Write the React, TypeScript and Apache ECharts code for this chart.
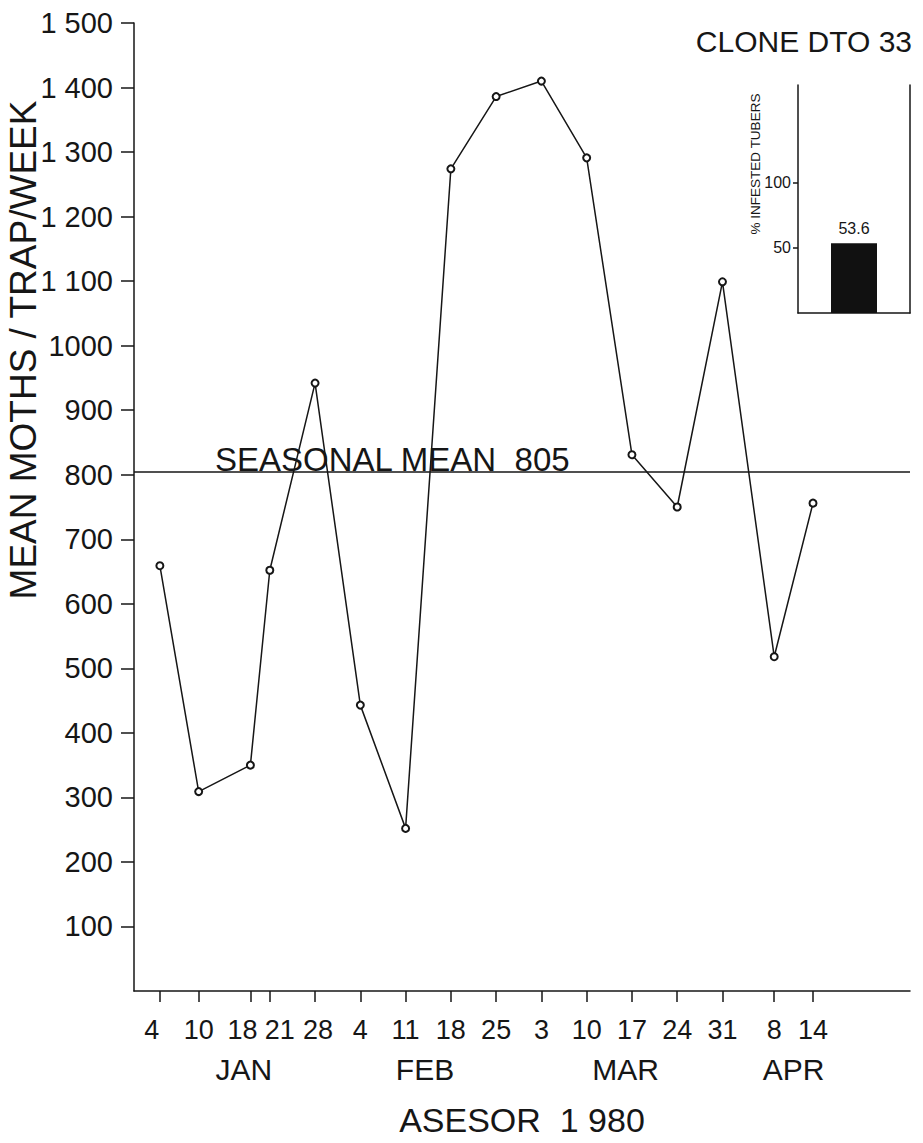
import React, { useEffect, useRef } from 'react';
import * as echarts from 'echarts';

// ---- data ----
const xDays = [4, 10, 18, 21, 28, 35, 42, 49, 56, 63, 70, 77, 84, 91, 99, 105]; // day of year 1980
const xTickLabels = ['4', '10', '18', '21', '28', '4', '11', '18', '25', '3', '10', '17', '24', '31', '8', '14'];
const moths = [659, 309, 350, 652, 942, 443, 252, 1274, 1386, 1410, 1291, 831, 750, 1099, 518, 756];
const monthNames = ['JAN', 'FEB', 'MAR', 'APR'];
const monthLabelDays = [17, 45, 76, 102];
const yTicks = [100, 200, 300, 400, 500, 600, 700, 800, 900, 1000, 1100, 1200, 1300, 1400, 1500];
const yTickLabels = ['100', '200', '300', '400', '500', '600', '700', '800', '900', '1000', '1 100', '1 200', '1 300', '1 400', '1 500'];
const seasonalMean = 805;
const insetCategories = ['DTO 33'];
const infested = [53.6];
const insetTicks = [50, 100];

// label nudges (style only): crowded January labels are offset as in the original
const xLabelNudge = ['l', 'n', 'l', 'r', 'q', 'n', 'n', 'n', 'n', 'n', 'n', 'n', 'n', 'n', 'n', 'n'];

const NUM_FONT = '"Liberation Sans", Arial, sans-serif';
const TXT_FONT = '"Liberation Sans", Arial, sans-serif';
const INK = '#161616';
const NUM_SIZE = 29;
const XNUM_SIZE = 27;

export default function App() {
  const ref = useRef<HTMLDivElement>(null);
  useEffect(() => {
    const chart = echarts.init(ref.current!, null, { renderer: 'svg' });
    const numStyle = { fontSize: NUM_SIZE, fontFamily: NUM_FONT, color: INK };
    const xNumStyle = { fontSize: XNUM_SIZE, fontFamily: NUM_FONT, color: INK };
    const option: any = {
      animation: false,
      backgroundColor: '#ffffff',
      grid: [
        { left: 134, right: 13, top: 23, bottom: 152 },
        { left: 798, right: 13, top: 85, bottom: 830 },
      ],
      xAxis: [
        {
          type: 'value', gridIndex: 0, min: 0, max: 120, position: 'bottom', offset: 0,
          axisLine: { show: true, lineStyle: { color: INK, width: 1.5 } },
          axisTick: { show: true, customValues: xDays, length: 11, lineStyle: { color: INK, width: 1.5 } },
          axisLabel: {
            show: true, customValues: xDays, margin: 25,
            formatter: (v: number) => {
              const i = xDays.indexOf(v);
              if (i < 0) return '';
              return '{' + xLabelNudge[i] + '|' + xTickLabels[i] + '}';
            },
            ...xNumStyle,
            rich: {
              n: { ...xNumStyle },
              l: { ...xNumStyle, padding: [0, 16, 0, 0] },
              r: { ...xNumStyle, padding: [0, 0, 0, 20] },
              q: { ...xNumStyle, padding: [0, 0, 0, 6] },
            },
          },
          splitLine: { show: false },
          name: 'ASESOR  1 980', nameLocation: 'middle', nameGap: 112,
          nameTextStyle: { fontSize: 34, fontFamily: TXT_FONT, color: INK },
        },
        {
          type: 'value', gridIndex: 0, min: 0, max: 120, position: 'bottom', offset: 0,
          axisLine: { show: false }, axisTick: { show: false }, splitLine: { show: false },
          axisLabel: {
            show: true, customValues: monthLabelDays, margin: 63,
            formatter: (v: number) => monthNames[monthLabelDays.indexOf(v)] ?? '',
            fontSize: 30, fontFamily: TXT_FONT, color: INK,
          },
        },
        {
          type: 'category', gridIndex: 1, data: insetCategories,
          axisLine: { show: true, lineStyle: { color: INK, width: 1.5 } },
          axisTick: { show: false }, axisLabel: { show: false },
        },
      ],
      yAxis: [
        {
          type: 'value', gridIndex: 0, min: 0, max: 1500, interval: 100,
          axisLine: { show: true, lineStyle: { color: INK, width: 1.5 } },
          axisTick: { show: true, customValues: yTicks, length: 13, lineStyle: { color: INK, width: 1.5 } },
          axisLabel: {
            show: true, customValues: yTicks, margin: 21,
            formatter: (v: number) => yTickLabels[yTicks.indexOf(v)] ?? '',
            ...numStyle,
          },
          splitLine: { show: false },
        },
        {
          type: 'value', gridIndex: 1, min: 0, max: 175, interval: 25,
          axisLine: { show: true, lineStyle: { color: INK, width: 1.5 } },
          axisTick: { show: true, customValues: insetTicks, length: 5, lineStyle: { color: INK, width: 1.5 } },
          axisLabel: {
            show: true, customValues: insetTicks, margin: 7,
            fontSize: 16, fontFamily: NUM_FONT, color: INK,
          },
          splitLine: { show: false },
        },
        {
          type: 'value', gridIndex: 1, min: 0, max: 175, interval: 25, position: 'right',
          axisLine: { show: true, lineStyle: { color: INK, width: 1.5 } },
          axisTick: { show: false }, axisLabel: { show: false }, splitLine: { show: false },
        },
      ],
      series: [
        {
          type: 'line', xAxisIndex: 0, yAxisIndex: 0,
          data: xDays.map((d, i) => [d, moths[i]]),
          symbol: 'emptyCircle', symbolSize: 7,
          lineStyle: { color: INK, width: 1.5 },
          itemStyle: { color: INK, borderColor: INK, borderWidth: 1.5 },
          markLine: {
            silent: true, symbol: ['none', 'none'],
            lineStyle: { color: INK, width: 1.5, type: 'solid' },
            label: { show: false },
            data: [{ yAxis: seasonalMean }],
          },
        },
        {
          type: 'bar', xAxisIndex: 2, yAxisIndex: 1,
          data: infested, barWidth: 46,
          itemStyle: { color: '#111111' },
          label: {
            show: true, position: 'top', distance: 7,
            formatter: (p: any) => Number(p.value).toFixed(1),
            fontSize: 16, fontFamily: NUM_FONT, color: INK,
          },
        },
      ],
    };
    chart.setOption(option);
    const yMean = chart.convertToPixel({ yAxisIndex: 0 }, seasonalMean) as number;
    chart.setOption({
      graphic: [
        {
          type: 'text', x: 912, y: 41,
          style: { text: 'CLONE DTO 33', align: 'right', verticalAlign: 'middle', fontSize: 30, fontFamily: TXT_FONT, fill: INK },
        },
        {
          type: 'text', x: 23, y: 350, rotation: Math.PI / 2,
          style: { text: 'MEAN MOTHS / TRAP/WEEK', align: 'center', verticalAlign: 'middle', fontSize: 37, fontFamily: TXT_FONT, fill: INK },
        },
        {
          type: 'text', x: 755, y: 164, rotation: Math.PI / 2,
          style: { text: '% INFESTED TUBERS', align: 'center', verticalAlign: 'middle', fontSize: 13.5, fontFamily: TXT_FONT, fill: INK },
        },
        {
          type: 'text', x: 215, y: yMean + 4,
          style: { text: 'SEASONAL MEAN  ' + seasonalMean, align: 'left', verticalAlign: 'bottom', fontSize: 33, fontFamily: TXT_FONT, fill: INK },
        },
      ],
    });
    return () => chart.dispose();
  }, []);
  return <div ref={ref} style={{ position: 'absolute', left: 0, top: 0, width: 923, height: 1143 }} />;
}
